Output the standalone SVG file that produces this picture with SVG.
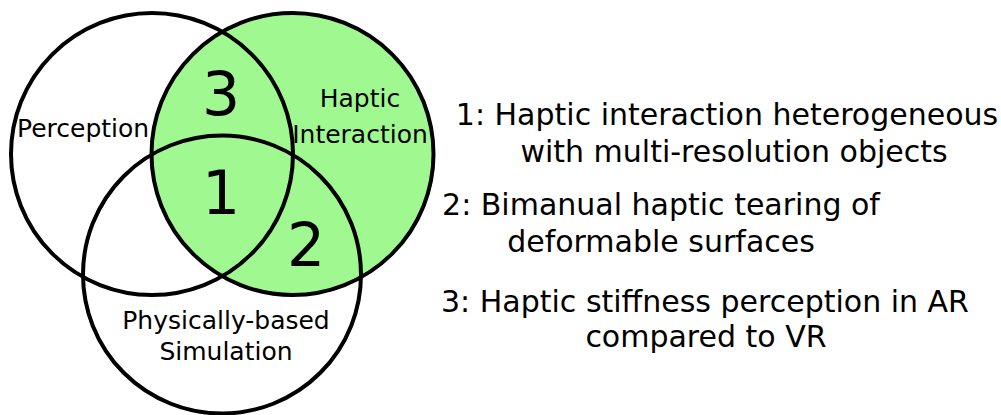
<svg xmlns="http://www.w3.org/2000/svg" width="1001" height="415" viewBox="0 0 1001 415">
<style>
.c{fill:none;stroke:#000;stroke-width:4}
.lbl{font-family:"DejaVu Sans",sans-serif;font-size:25px;fill:#000}
.num{font-family:"DejaVu Sans",sans-serif;font-size:60px;fill:#000;text-anchor:middle}
.leg{font-family:"DejaVu Sans",sans-serif;font-size:30px;fill:#000;text-anchor:middle}
</style>
<rect width="1001" height="415" fill="#fff"/>
<g id="haptic">
<circle cx="292.5" cy="154" r="141" fill="#a0f890" stroke="#000" stroke-width="4"/>
<text class="lbl" x="360" y="107" text-anchor="middle">Haptic</text>
<text class="lbl" x="360" y="143" text-anchor="middle">Interaction</text>
</g>
<g id="perception">
<circle class="c" cx="152" cy="154" r="141"/>
<text class="lbl" x="17" y="137">Perception</text>
</g>
<g id="simulation">
<circle class="c" cx="222" cy="274.5" r="139"/>
<text class="lbl" x="226" y="329" text-anchor="middle">Physically-based</text>
<text class="lbl" x="226" y="360" text-anchor="middle">Simulation</text>
</g>
<g id="regions">
<text class="num" x="221" y="115">3</text>
<text class="num" x="221" y="214">1</text>
<text class="num" x="306" y="266">2</text>
</g>
<g id="legend">
<text class="leg" x="727" y="125">1: Haptic interaction heterogeneous</text>
<text class="leg" x="734" y="162">with multi-resolution objects</text>
<text class="leg" x="661" y="215">2: Bimanual haptic tearing of</text>
<text class="leg" x="661" y="252">deformable surfaces</text>
<text class="leg" x="705" y="312">3: Haptic stiffness perception in AR</text>
<text class="leg" x="706" y="347">compared to VR</text>
</g>
<g id="connectors"></g>
</svg>
